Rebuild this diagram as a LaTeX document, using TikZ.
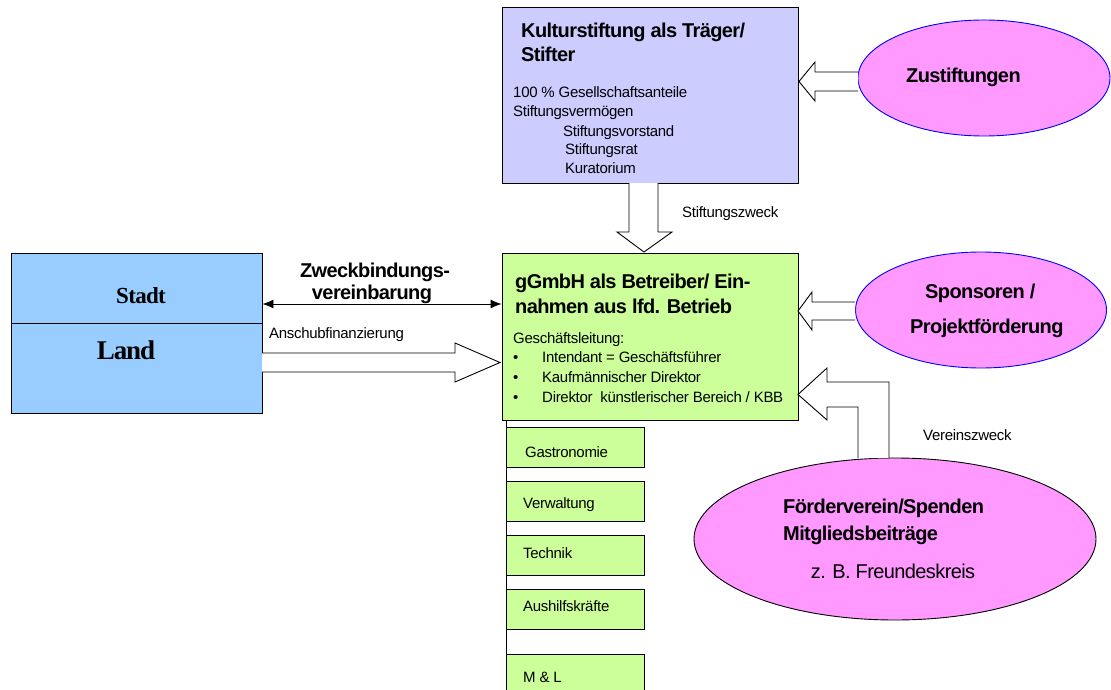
\documentclass[tikz,border=0pt]{standalone}
\usepackage{fontspec}
\setmainfont{Liberation Sans}
\newfontfamily\serifbold{Liberation Serif}
\usetikzlibrary{arrows.meta,shapes.geometric}
\definecolor{kultfill}{HTML}{CCCCFF}
\definecolor{gfill}{HTML}{CCFF99}
\definecolor{bluefill}{HTML}{99CCFF}
\definecolor{pinkfill}{HTML}{FF99FF}
\begin{document}
\begin{tikzpicture}[x=1pt,y=-1pt,
  box/.style={draw=black,line width=0.9pt,rectangle,inner sep=0pt},
  dept/.style={box,fill=gfill,minimum width=138pt,minimum height=40pt},
  oval/.style={ellipse,draw=blue,line width=0.9pt,fill=pinkfill,inner sep=0pt},
  blockarrow/.style={draw=black,line width=0.9pt,fill=white},
  txt/.style={anchor=base west,inner sep=0pt},
  bigfont/.style={font=\fontsize{20}{24}\selectfont\bfseries\addfontfeature{LetterSpace=-3}},
  smallfont/.style={font=\fontsize{15}{18}\selectfont\addfontfeature{LetterSpace=-2}},
  big/.style={txt,bigfont},
  small/.style={txt,smallfont},
  lbl/.style={txt,smallfont}]
\useasboundingbox (0,0) rectangle (1111,690);

% main boxes
\node[box,fill=kultfill,minimum width=296pt,minimum height=176pt] (kult) at (650,95) {};
\node[box,fill=gfill,minimum width=296pt,minimum height=167pt] (ggmbh) at (650,336.5) {};
\node[box,fill=bluefill,minimum width=251pt,minimum height=160pt] (stadtland) at (136.5,333) {};
\coordinate (divL) at (11,323);
\coordinate (divR) at (262,323);
\draw[line width=0.9pt] (divL) -- (divR);

% Kulturstiftung texts
\node[big] (k1) at (521,38) {Kulturstiftung als Träger/};
\node[big] (k2) at (521,62) {Stifter};
\node[small] (k3) at (513,98) {100 \% Gesellschaftsanteile};
\node[small] (k4) at (513,117) {Stiftungsvermögen};
\node[small] (k5) at (563,136) {Stiftungsvorstand};
\node[small] (k6) at (565,154) {Stiftungsrat};
\node[small] (k7) at (565,173) {Kuratorium};

% gGmbH texts
\node[big] (g1) at (515,288) {gGmbH als Betreiber/ Ein-};
\node[big] (g2) at (515,313) {nahmen aus lfd. Betrieb};
\node[small] (g3) at (513,343) {Geschäftsleitung:};
\node[small] (b1) at (513,362) {\textbullet};
\node[small] (b2) at (513,382) {\textbullet};
\node[small] (b3) at (513,402) {\textbullet};
\node[small] (g4) at (542,362) {Intendant = Geschäftsführer};
\node[small] (g5) at (542,382) {Kaufmännischer Direktor};
\node[small] (g6) at (542,402) {Direktor\ \ künstlerischer Bereich / KBB};

% Stadt / Land texts
\node[anchor=base,inner sep=0pt,font=\serifbold\bfseries\fontsize{23}{26}\selectfont\addfontfeature{LetterSpace=-3}] (stadt) at (141,303) {Stadt};
\node[anchor=base,inner sep=0pt,font=\serifbold\bfseries\fontsize{27}{30}\selectfont\addfontfeature{LetterSpace=-4}] (land) at (126,359) {Land};

% departments
\coordinate (vtop) at (506,420);
\coordinate (vbot) at (506,690);
\draw[line width=0.9pt] (vtop) -- (vbot);
\node[dept] (gastro) at (575,447) {};
\node[dept] (verw) at (575,501.5) {};
\node[dept] (tech) at (575,555.5) {};
\node[dept] (aush) at (575,609) {};
\node[dept] (ml) at (575,674) {};
\node[small] at (525,457) {Gastronomie};
\node[small] at (523,508) {Verwaltung};
\node[small] at (523,558) {Technik};
\node[small] at (523,611) {Aushilfskräfte};
\node[small] at (523,682) {M \& L};

% ellipses
\node[oval,minimum width=252pt,minimum height=116pt] (zust) at (984,78) {};
\node[big] (zt) at (906,83) {Zustiftungen};
\node[oval,minimum width=251pt,minimum height=116pt] (spons) at (981,310) {};
\node[big] (s1) at (925,298) {Sponsoren /};
\node[big] (s2) at (910,333) {Projektförderung};
\node[oval,draw=black,minimum width=402pt,minimum height=162pt] (foerd) at (895,539) {};
\node[big] (f1) at (783,513) {Förderverein/Spenden};
\node[big] (f2) at (783,540) {Mitgliedsbeiträge};
\node[anchor=base,inner sep=0pt,font=\fontsize{20}{24}\selectfont\addfontfeature{LetterSpace=-3}] (f3) at (893,578) {z. B. Freundeskreis};

% double arrow Zweckbindungsvereinbarung
\draw[line width=0.9pt,{Latex[length=11pt,width=9pt]}-{Latex[length=11pt,width=9pt]}] (stadtland.east |- 0,304) -- (ggmbh.west |- 0,304);
\node[anchor=base,inner sep=0pt,bigfont] (zw1) at (375,277) {Zweckbindungs-};
\node[anchor=base,inner sep=0pt,bigfont] (zw2) at (372,299) {vereinbarung};
\node[lbl] (ansch) at (269,338) {Anschubfinanzierung};

% block arrows
% Land -> gGmbH
\draw[blockarrow] (262,353) -- (455,353) -- (455,343) -- (500,362.5) -- (455,382) -- (455,372) -- (262,372);
% Kulturstiftung -> gGmbH
\draw[blockarrow] (629,183) -- (629,232) -- (617,232) -- (644,252) -- (672,232) -- (658,232) -- (658,183);
\node[lbl] (szw) at (682,217) {Stiftungszweck};
% Zustiftungen -> Kulturstiftung
\draw[blockarrow] (858,72) -- (815,72) -- (815,62) -- (799,81.5) -- (815,101) -- (815,91) -- (858,91);
% Sponsoren -> gGmbH
\draw[blockarrow] (855,302) -- (812,302) -- (812,292) -- (798,311) -- (812,330) -- (812,320) -- (855,320);
% Foerderverein -> gGmbH
\draw[blockarrow] (858,458) -- (858,407) -- (827,407) -- (827,420) -- (798,394.5) -- (827,368) -- (827,382) -- (889,382) -- (889,458);
\node[lbl] (vzw) at (923,440) {Vereinszweck};
\end{tikzpicture}
\end{document}
